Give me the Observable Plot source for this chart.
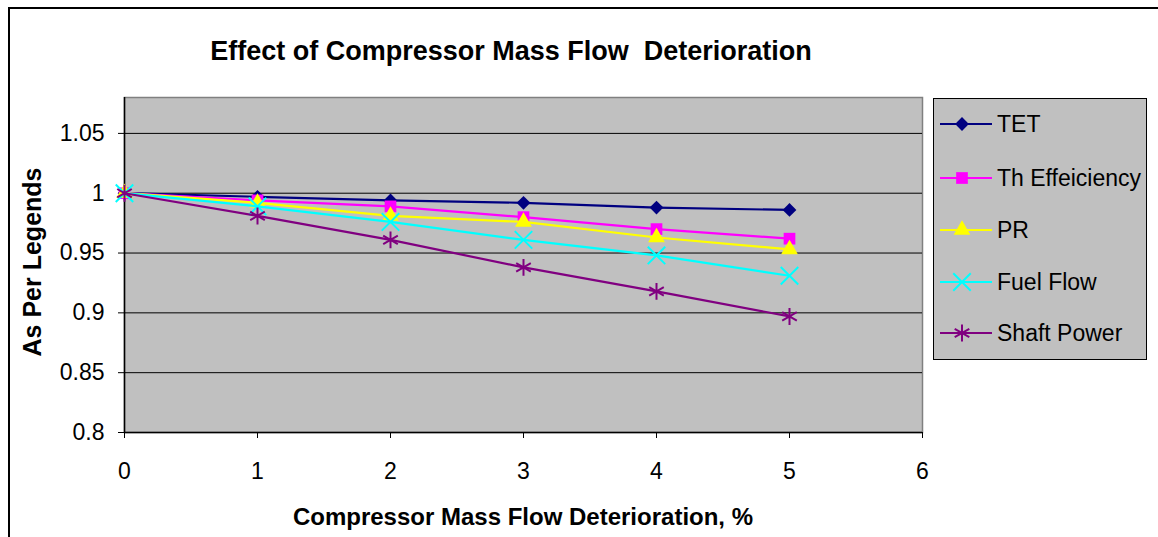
<!DOCTYPE html>
<html>
<head>
<meta charset="utf-8">
<script src="https://cdn.jsdelivr.net/npm/d3@7"></script>
<script src="https://cdn.jsdelivr.net/npm/@observablehq/plot@0.6"></script>
<style>
  html, body { margin: 0; padding: 0; background: #fff; }
  #wrap { position: relative; width: 1158px; height: 537px; overflow: hidden; font-family: "Liberation Sans", Arial, sans-serif; }
  #border { position: absolute; left: 8px; top: 7px; width: 1200px; height: 600px; border-top: 2px solid #000; border-left: 2px solid #000; }
  #plot { position: absolute; left: 0; top: 0; }
  #overlay { position: absolute; left: 0; top: 0; }
</style>
</head>
<body>
<div id="wrap">
  <div id="border"></div>
  <div id="plot"></div>
  <svg id="overlay" width="1158" height="537"></svg>
</div>
<script>
// ---- data ----
const deterioration = [0, 1, 2, 3, 4, 5];
const seriesNames = ["TET", "Th Effeiciency", "PR", "Fuel Flow", "Shaft Power"];
const tetValues = [1, 0.997, 0.994, 0.992, 0.988, 0.986];
const thEffValues = [1, 0.994, 0.989, 0.980, 0.970, 0.962];
const prValues = [1, 0.992, 0.981, 0.976, 0.963, 0.953];
const fuelFlowValues = [1, 0.989, 0.976, 0.961, 0.948, 0.931];
const shaftPowerValues = [1, 0.981, 0.961, 0.938, 0.918, 0.897];
const xTicks = [0, 1, 2, 3, 4, 5, 6];
const yTicks = [0.8, 0.85, 0.9, 0.95, 1, 1.05];
const titleText = "Effect of Compressor Mass Flow  Deterioration";
const xLabel = "Compressor Mass Flow Deterioration, %";
const yLabel = "As Per Legends";

// ---- styling ----
const seriesValues = [tetValues, thEffValues, prValues, fuelFlowValues, shaftPowerValues];
const seriesStyle = [
  {color: "#000080", symbol: "diamond2", r: 6.2, filled: true},
  {color: "#FF00FF", symbol: "square", r: 6.6, filled: true},
  {color: "#FFFF00", symbol: "triangle", r: 6.2, filled: true},
  {color: "#00FFFF", symbol: "times", r: 8, filled: false},
  {color: "#800080", symbol: "asterisk", r: 8, filled: false}
];

const rows = [];
seriesNames.forEach((name, i) => {
  deterioration.forEach((x, j) => rows.push({series: name, idx: i, x, y: seriesValues[i][j]}));
});

const marks = [
  Plot.frame({fill: "#c0c0c0", stroke: "#808080", strokeWidth: 1.5}),
  Plot.ruleY(yTicks.filter(d => d > 0.8), {stroke: "#000", strokeWidth: 1}),
  Plot.axisY({ticks: yTicks, tickSize: 6, tickPadding: 14, label: null,
    tickFormat: d => String(+d.toFixed(2))}),
  Plot.axisX({ticks: xTicks, tickSize: 6, tickPadding: 24, label: null,
    tickFormat: d => String(d)}),
  Plot.ruleX([0], {stroke: "#000", strokeWidth: 1.5}),
  Plot.ruleY([0.8], {stroke: "#000", strokeWidth: 1.5})
];
seriesNames.forEach((name, i) => {
  const s = seriesStyle[i];
  const data = rows.filter(d => d.idx === i);
  marks.push(Plot.line(data, {x: "x", y: "y", stroke: s.color, strokeWidth: 2.2}));
  marks.push(Plot.dot(data, s.filled
    ? {x: "x", y: "y", symbol: () => s.symbol, r: s.r, fill: s.color, stroke: "none"}
    : {x: "x", y: "y", symbol: () => s.symbol, r: s.r, fill: "none", stroke: s.color, strokeWidth: 2}));
});

const chart = Plot.plot({
  width: 1158,
  height: 537,
  marginLeft: 124,
  marginRight: 236,
  marginTop: 97,
  marginBottom: 105,
  x: {domain: [0, 6]},
  y: {domain: [0.8, 1.08]},
  symbol: {type: "identity"},
  style: {fontFamily: "'Liberation Sans', Arial, sans-serif", fontSize: "23px", background: "transparent", color: "#000"},
  marks
});
document.getElementById("plot").appendChild(chart);

// ---- overlay: title, axis labels, legend ----
const ov = d3.select("#overlay");
const font = "'Liberation Sans', Arial, sans-serif";
ov.append("text").attr("x", 511).attr("y", 60).attr("text-anchor", "middle")
  .attr("font-family", font).attr("font-size", 27).attr("font-weight", "bold")
  .attr("xml:space", "preserve").style("white-space", "pre").text(titleText);
ov.append("text").attr("x", 523).attr("y", 525).attr("text-anchor", "middle")
  .attr("font-family", font).attr("font-size", 24).attr("font-weight", "bold").text(xLabel);
ov.append("text").attr("transform", "translate(41,262) rotate(-90)").attr("text-anchor", "middle")
  .attr("font-family", font).attr("font-size", 25).attr("font-weight", "bold").text(yLabel);

const lg = ov.append("g");
lg.append("rect").attr("x", 933.5).attr("y", 98.5).attr("width", 213).attr("height", 261)
  .attr("fill", "#c0c0c0").attr("stroke", "#000").attr("stroke-width", 1);
const symMap = {diamond2: d3.symbolDiamond2, square: d3.symbolSquare, triangle: d3.symbolTriangle, times: d3.symbolTimes, asterisk: d3.symbolAsterisk};
const legendY = [124, 178, 230, 282, 333];
seriesNames.forEach((name, i) => {
  const s = seriesStyle[i];
  const y = legendY[i];
  lg.append("line").attr("x1", 940).attr("x2", 992).attr("y1", y).attr("y2", y)
    .attr("stroke", s.color).attr("stroke-width", 2);
  lg.append("path").attr("transform", `translate(962,${y})`)
    .attr("d", d3.symbol(symMap[s.symbol], Math.PI * s.r * s.r)())
    .attr("fill", s.filled ? s.color : "none").attr("stroke", s.filled ? "none" : s.color).attr("stroke-width", 2);
  lg.append("text").attr("x", 997).attr("y", y).attr("dy", "0.35em")
    .attr("font-family", font).attr("font-size", 23).text(name);
});
</script>
</body>
</html>
